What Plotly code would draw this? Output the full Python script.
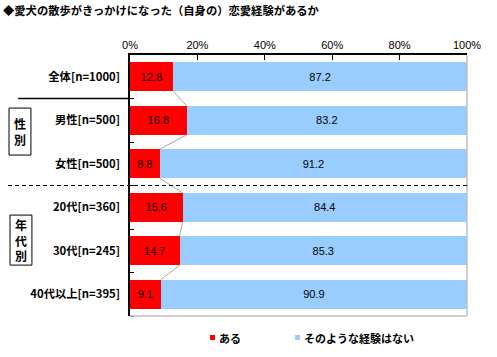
import plotly.graph_objects as go

categories = ["全体[n=1000]", "男性[n=500]", "女性[n=500]", "20代[n=360]", "30代[n=245]", "40代以上[n=395]"]
aru = [12.8, 16.8, 8.8, 15.6, 14.7, 9.1]
nai = [87.2, 83.2, 91.2, 84.4, 85.3, 90.9]
series_names = ["ある", "そのような経験はない"]
x_ticks = [0, 20, 40, 60, 80, 100]
x_ticklabels = ["0%", "20%", "40%", "60%", "80%", "100%"]
title = "◆愛犬の散歩がきっかけになった（自身の）恋愛経験があるか"

RED = "#FF0000"
BLUE = "#99CCFF"
JP = "Noto Sans CJK JP"
ypos = list(range(len(categories)))
bw = 0.667

fig = go.Figure()
fig.add_trace(go.Bar(y=ypos, x=aru, orientation="h", marker=dict(color=RED, line=dict(width=0)),
                     width=bw, name=series_names[0], text=[f"{v:.1f}" for v in aru],
                     textposition="inside", insidetextanchor="middle",
                     textfont=dict(color="black", size=11, family="Liberation Sans"), hoverinfo="skip"))
fig.add_trace(go.Bar(y=ypos, x=nai, orientation="h", marker=dict(color=BLUE, line=dict(width=0)),
                     width=bw, name=series_names[1], text=[f"{v:.1f}" for v in nai],
                     textposition="inside", insidetextanchor="middle",
                     textfont=dict(color="black", size=11, family="Liberation Sans"), hoverinfo="skip"))

shapes = []
# series connector lines
for i in range(len(aru) - 1):
    shapes.append(dict(type="line", xref="x", yref="y", x0=aru[i], y0=i + bw / 2, x1=aru[i + 1], y1=i + 1 - bw / 2,
                       line=dict(color="#A6A6A6", width=1)))
# gray right/bottom border
shapes.append(dict(type="line", xref="paper", yref="paper", x0=0, y0=0, x1=1, y1=0, line=dict(color="#C0C0C0", width=1.5)))
shapes.append(dict(type="line", xref="paper", yref="paper", x0=1, y0=0, x1=1, y1=1, line=dict(color="#C0C0C0", width=1.5)))
# separators
shapes.append(dict(type="line", xref="paper", yref="y", x0=-0.332, y0=0.5, x1=0, y1=0.5, line=dict(color="black", width=1.5)))
shapes.append(dict(type="line", xref="paper", yref="y", x0=-0.362, y0=2.5, x1=1, y1=2.5, line=dict(color="black", width=1, dash="4px,3px")))
# group boxes
shapes.append(dict(type="rect", xref="paper", yref="y", x0=-0.359, x1=-0.294, y0=0.72, y1=1.80, line=dict(color="black", width=1)))
shapes.append(dict(type="rect", xref="paper", yref="y", x0=-0.356, x1=-0.291, y0=3.18, y1=4.33, line=dict(color="black", width=1)))
# manual legend squares
shapes.append(dict(type="rect", xref="paper", yref="paper", x0=(210 - 130) / 337, x1=(215 - 130) / 337,
                   y0=-(335 - 316) / 261, y1=-(340 - 316) / 261, fillcolor=RED, line=dict(width=0)))
shapes.append(dict(type="rect", xref="paper", yref="paper", x0=(295 - 130) / 337, x1=(300 - 130) / 337,
                   y0=-(335 - 316) / 261, y1=-(340 - 316) / 261, fillcolor=BLUE, line=dict(width=0)))

annotations = [
    dict(text="<b>性<br>別</b>", xref="paper", yref="y", x=-0.3265, y=1.26, showarrow=False,
         font=dict(family=JP, size=12, color="black"), xanchor="center", yanchor="middle"),
    dict(text="<b>年<br>代<br>別</b>", xref="paper", yref="y", x=-0.3235, y=3.755, showarrow=False,
         font=dict(family=JP, size=12, color="black"), xanchor="center", yanchor="middle"),
    dict(text=f"<b>{series_names[0]}</b>", xref="paper", yref="paper", x=(217 - 130) / 337, y=-(337.5 - 316) / 261,
         showarrow=False, font=dict(family=JP, size=11, color="black"), xanchor="left", yanchor="middle"),
    dict(text=f"<b>{series_names[1]}</b>", xref="paper", yref="paper", x=(302 - 130) / 337, y=-(337.5 - 316) / 261,
         showarrow=False, font=dict(family=JP, size=11, color="black"), xanchor="left", yanchor="middle"),
    dict(text=f"<b>{title}</b>", xref="paper", yref="paper", x=(1 - 130) / 337, y=1 + (55 - 10) / 261,
         showarrow=False, font=dict(family=JP, size=11.3, color="black"), xanchor="left", yanchor="middle"),
]

fig.update_layout(
    barmode="stack",
    width=497, height=357,
    margin=dict(l=130, r=30, t=55, b=41, pad=0, autoexpand=False),
    paper_bgcolor="white", plot_bgcolor="white",
    showlegend=False,
    shapes=shapes, annotations=annotations,
    uniformtext=dict(minsize=11, mode="show"),
    xaxis=dict(range=[0, 100], side="top", tickvals=x_ticks, ticktext=x_ticklabels, automargin=False,
               ticks="inside", ticklen=5, tickcolor="black", showgrid=False, zeroline=False,
               showline=True, linecolor="black", linewidth=1.5,
               tickfont=dict(family="Liberation Sans", size=11, color="black"), fixedrange=True),
    yaxis=dict(range=[5.5, -0.5], tickvals=ypos, ticktext=[f"<b>{c}</b>" for c in categories], automargin=False,
               ticks="", showgrid=False, zeroline=False, showline=True, linecolor="black", linewidth=1.5,
               tickfont=dict(family=JP, size=11.3, color="black"), ticklabelstandoff=6,
               minor=dict(tickvals=[0.5, 1.5, 2.5, 3.5, 4.5, 5.5], ticks="inside", ticklen=4, tickcolor="black"),
               fixedrange=True),
    font=dict(family=JP),
)

fig.write_html("out.html", config={"displayModeBar": False},
               post_script="document.body.style.margin='0';")
